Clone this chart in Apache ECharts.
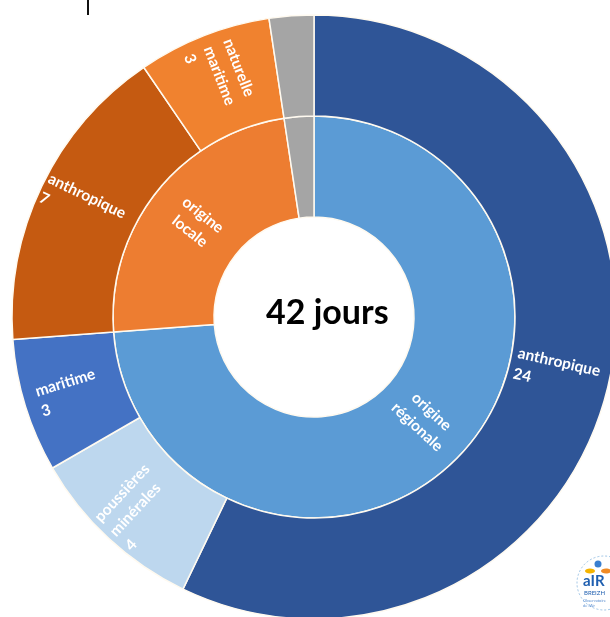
<!DOCTYPE html>
<html>
<head>
<meta charset="utf-8">
<script src="https://cdn.jsdelivr.net/npm/echarts@6/dist/echarts.min.js"></script>
<style>
    html, body { margin: 0; padding: 0; background: #ffffff; }
    #my_chart { width: 610px; height: 617px; }
</style>
</head>
<body>
<div id="my_chart"></div>
<script>
    // anneau intérieur : origine
    var originNames = ['origine régionale', 'origine locale', 'autre'];
    var originColors = ['#5B9BD5', '#ED7D31', '#A5A5A5'];

    // anneau extérieur : type de pollution, par origine
    var regionalNames = ['anthropique', 'poussières minérales', 'maritime'];
    var regionalValues = [24, 4, 3];
    var regionalColors = ['#2F5597', '#BDD7EE', '#4472C4'];

    var localNames = ['anthropique', 'naturelle maritime'];
    var localValues = [7, 3];
    var localColors = ['#C55A11', '#F0822F'];

    var otherValues = [1];

    var totalLabel = '42 jours';

    // réglages des étiquettes (côté gauche : depuis le bord extérieur)
    var regionalLabels = [
        { align: 'left', distance: 6 },
        { align: 'right', distance: 6 },
        { align: 'right', distance: 14 }
    ];
    var localLabels = [
        { align: 'right', distance: 3 },
        { align: 'right', distance: 12 }
    ];

    function leaves(names, values, colors, labels) {
        return names.map(function (n, i) {
            return {
                name: n,
                value: values[i],
                itemStyle: { color: colors[i] },
                label: labels[i]
            };
        });
    }

    var data = [
        {
            name: originNames[0],
            itemStyle: { color: originColors[0] },
            children: leaves(regionalNames, regionalValues, regionalColors, regionalLabels)
        },
        {
            name: originNames[1],
            itemStyle: { color: originColors[1] },
            children: leaves(localNames, localValues, localColors, localLabels)
        },
        {
            name: originNames[2],
            itemStyle: { color: originColors[2] },
            label: { show: false },
            children: [{
                name: originNames[2],
                value: otherValues[0],
                itemStyle: { color: originColors[2] },
                label: { show: false }
            }]
        }
    ];

    var myChart = echarts.init(document.getElementById('my_chart'));
    var option = {
        backgroundColor: '#ffffff',
        animation: false,
        series: [{
            type: 'sunburst',
            center: [314, 317],
            radius: [100, 302],
            sort: null,
            nodeClick: false,
            startAngle: 90,
            emphasis: { disabled: true },
            itemStyle: {
                borderColor: '#fffaf0',
                borderWidth: 1.5
            },
            label: {
                rotate: 'radial',
                color: '#ffffff',
                fontFamily: 'Lato',
                fontWeight: 'bold',
                fontSize: 15.5,
                lineHeight: 21
            },
            levels: [
                {},
                {
                    label: {
                        align: 'center',
                        formatter: function (p) {
                            return p.name.split(' ').join('\n');
                        }
                    }
                },
                {
                    label: {
                        formatter: function (p) {
                            return p.name.split(' ').join('\n') + '\n' + p.value;
                        }
                    }
                }
            ],
            data: data
        }],
        graphic: [
            {
                type: 'text',
                left: 266,
                top: 296,
                style: {
                    text: totalLabel,
                    font: 'bold 34px Lato',
                    fill: '#000000'
                }
            },
            {
                type: 'rect',
                shape: { x: 87, y: 0, width: 2, height: 15 },
                style: { fill: '#111111' }
            },
            // logo
            {
                type: 'circle',
                shape: { cx: 604, cy: 583, r: 27 },
                style: { fill: '#ffffff', stroke: '#9cc3e6', lineWidth: 1, lineDash: [2, 2] }
            },
            {
                type: 'circle',
                shape: { cx: 598, cy: 564, r: 3.5 },
                style: { fill: '#3a7fd0' }
            },
            {
                type: 'ellipse',
                shape: { cx: 590, cy: 571, rx: 5, ry: 2.5 },
                style: { fill: '#f5b400' }
            },
            {
                type: 'ellipse',
                shape: { cx: 606, cy: 571, rx: 5, ry: 2.5 },
                style: { fill: '#f08a24' }
            },
            {
                type: 'text',
                left: 583,
                top: 574,
                style: { text: 'aIR', font: 'bold 15px Lato', fill: '#1f5fb0' }
            },
            {
                type: 'text',
                left: 584,
                top: 590,
                style: { text: 'BREIZH', font: '6px Lato', fill: '#1f5fb0' }
            },
            {
                type: 'text',
                left: 583,
                top: 598,
                style: { text: 'Observatoire\nde l\'Air', font: '4px Lato', fill: '#5b8fd0', lineHeight: 5 }
            }
        ]
    };
    myChart.setOption(option);
</script>
</body>
</html>
